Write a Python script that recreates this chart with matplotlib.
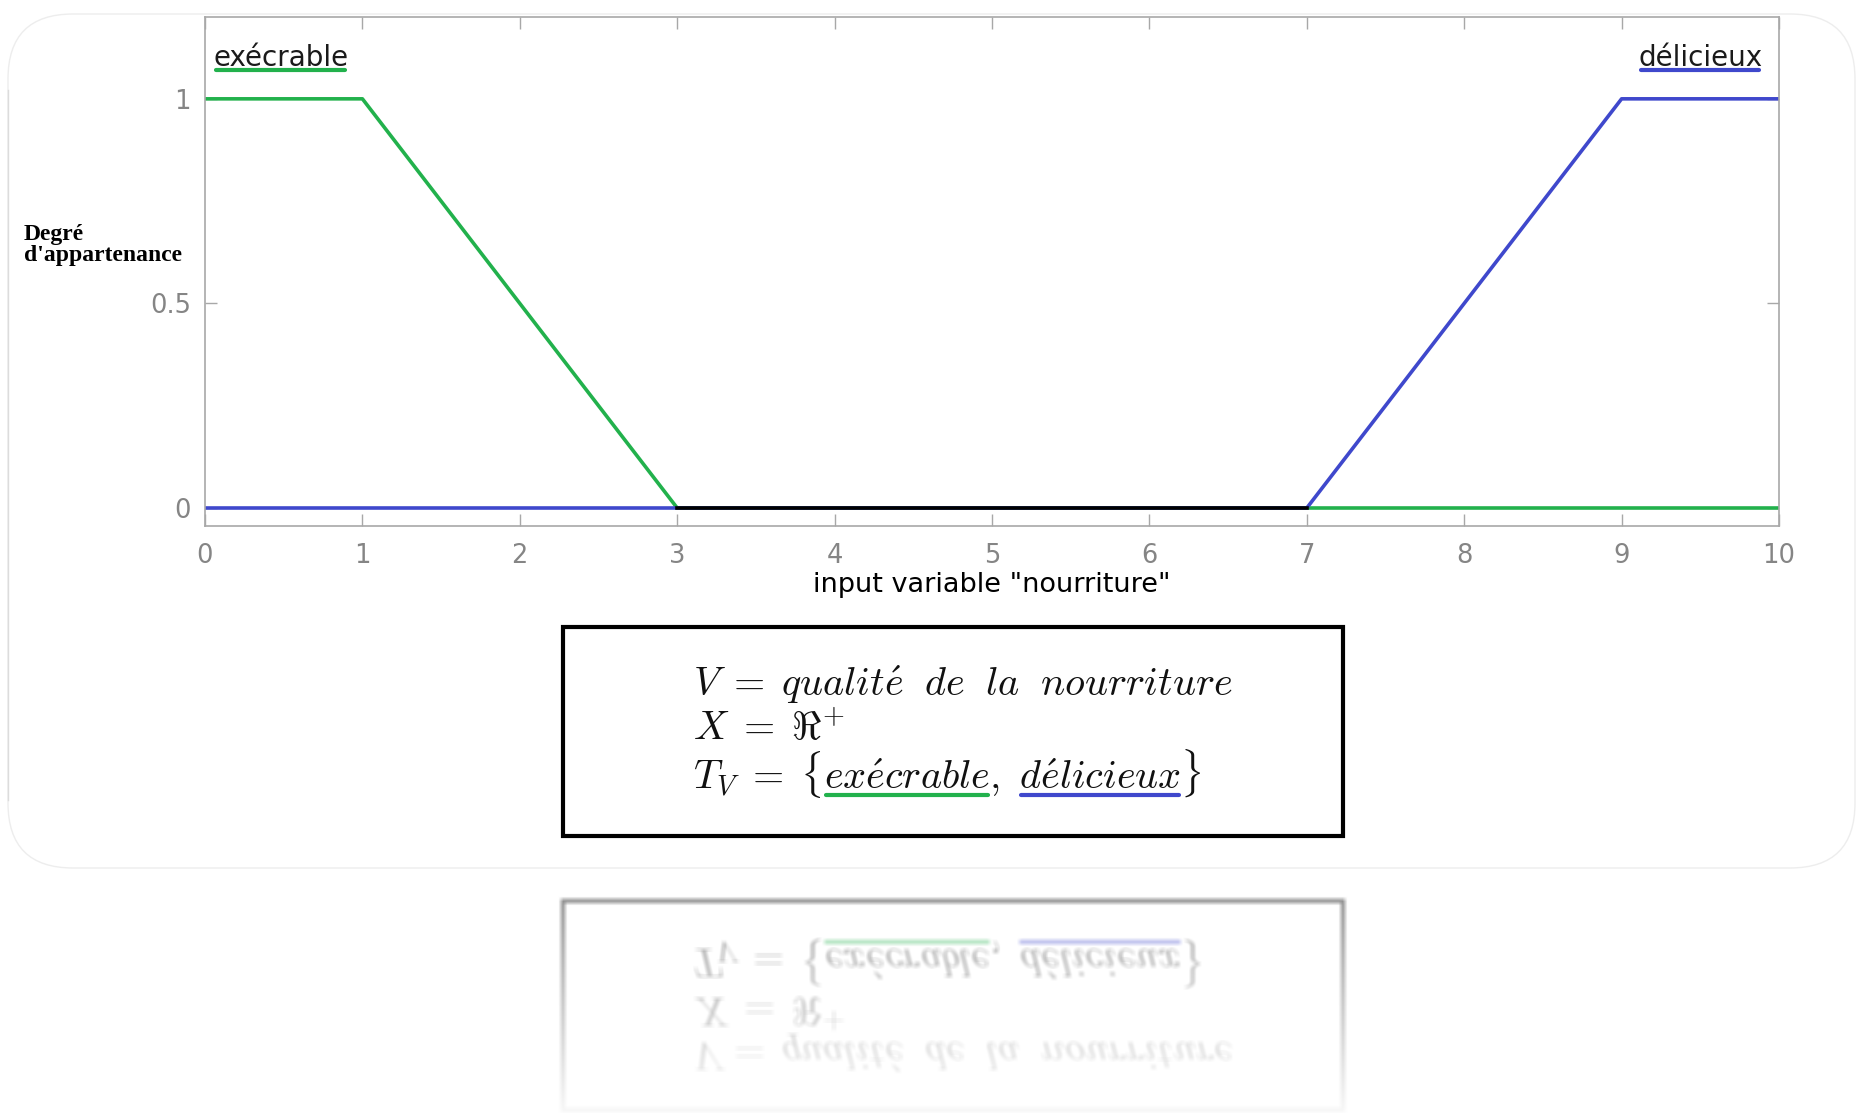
import matplotlib
matplotlib.use('Agg')
import matplotlib.pyplot as plt
import numpy as np
from matplotlib.patches import FancyBboxPatch, Rectangle
from matplotlib.lines import Line2D

# figure size in pixels
W, H = 1865, 1113

# membership functions of the linguistic variable "nourriture"
execrable_x = [0, 1, 3, 10]
execrable_y = [1, 1, 0, 0]
delicieux_x = [0, 7, 9, 10]
delicieux_y = [0, 0, 1, 1]
overlap_x = [3, 7]
overlap_y = [0, 0]

x_ticks = [0, 1, 2, 3, 4, 5, 6, 7, 8, 9, 10]
y_ticks = [0, 0.5, 1]
y_tick_labels = ['0', '0.5', '1']
term_names = ['exécrable', 'délicieux']

box_lines = [r'$V\;=\;qualit\acute{e}\ \;de\ \;la\ \;nourriture$',
             r'$X\;=\;\Re^{+}$',
             r'$T_V\;=\;\{ex\acute{e}crable,\ d\acute{e}licieux\}$']
# (text up to the end of the term, the term alone)
underline_spans = [(r'$T_V\;=\;\{ex\acute{e}crable$', r'$ex\acute{e}crable$'),
                   (r'$T_V\;=\;\{ex\acute{e}crable,\ d\acute{e}licieux$', r'$d\acute{e}licieux$')]

green = '#22b14c'
blue = '#3f48cc'
gray_text = '#858585'
gray_axis = '#a8a8a8'
box_size = 29

plt.rcParams['mathtext.fontset'] = 'cm'
plt.rcParams['font.family'] = 'DejaVu Sans'


def fx(x):
    return x / W


def fy(y):
    return 1 - y / H


fig = plt.figure(figsize=(W / 100, H / 100), dpi=100, facecolor='white')

# rounded card behind everything
card = FancyBboxPatch((0.08, (H - 868) / 100), 18.47, 8.54,
                      boxstyle='round,pad=0,rounding_size=0.65',
                      transform=fig.dpi_scale_trans, facecolor='white',
                      edgecolor='#ededed', linewidth=1.0, zorder=-1)
fig.add_artist(card)
fig.add_artist(Line2D([fx(8), fx(8)], [fy(90), fy(800)], color='#dcdcdc', linewidth=1.0, zorder=-1))

ax = fig.add_axes([fx(205), fy(526), (1779 - 205) / W, (526 - 17) / H])
ax.plot(execrable_x, execrable_y, color=green, linewidth=2.6)
ax.plot(delicieux_x, delicieux_y, color=blue, linewidth=2.6)
ax.plot(overlap_x, overlap_y, color='black', linewidth=2.6)

ax.set_xlim(0, 10)
ax.set_ylim(-0.044, 1.2)
ax.set_xticks(x_ticks)
ax.set_yticks(y_ticks)
ax.set_yticklabels(y_tick_labels)
ax.tick_params(direction='in', length=8.5, width=1, color=gray_axis,
               labelcolor=gray_text, labelsize=18.5, top=True, right=True)
ax.tick_params(axis='x', pad=12)
ax.tick_params(axis='y', pad=10)
for spine in ax.spines.values():
    spine.set_color(gray_axis)
    spine.set_linewidth(1.2)

ax.set_xlabel('input variable "nourriture"', fontsize=19.5, color='black', va='center')
ax.xaxis.set_label_coords(0.5, (526 - 585) / (526 - 17))

fig.text(fx(24), fy(245), "Degré\nd'appartenance", family='Liberation Serif',
         weight='bold', fontsize=17, ha='left', va='center', linespacing=1.0)

# term labels inside the axes
t_exe = ax.text((214 - 205) / 1574, (526 - 66) / 509, term_names[0], transform=ax.transAxes,
                fontsize=20, color='#1a1a1a', ha='left', va='baseline')
t_del = ax.text((1763 - 205) / 1574, (526 - 66) / 509, term_names[1], transform=ax.transAxes,
                fontsize=20, color='#1a1a1a', ha='right', va='baseline')

# definition box
fig.add_artist(Rectangle((fx(563), fy(836)), (1343 - 563) / W, (836 - 627) / H,
                         transform=fig.transFigure, fill=False, edgecolor='black',
                         linewidth=3, zorder=2))
baselines = [696, 740, 789]
for line, base in zip(box_lines, baselines):
    fig.text(fx(693), fy(base), line, fontsize=box_size, ha='left', va='baseline', color='#111111')

fig.canvas.draw()
renderer = fig.canvas.get_renderer()


def text_width(s, size):
    t = fig.text(0, 0, s, fontsize=size)
    w = t.get_window_extent(renderer).width
    t.remove()
    return w


# underlines for the term labels
for t, col in [(t_exe, green), (t_del, blue)]:
    bb = t.get_window_extent(renderer)
    fig.add_artist(Line2D([fx(bb.x0 + 2), fx(bb.x1 - 4)], [fy(70), fy(70)],
                          color=col, linewidth=3, solid_capstyle='round'))

# underlines below the terms of T_V
x0 = 693
for (upto, word), col in zip(underline_spans, [green, blue]):
    b = text_width(upto, box_size)
    a = b - text_width(word, box_size)
    fig.add_artist(Line2D([fx(x0 + a + 2), fx(x0 + b - 2)], [fy(795), fy(795)],
                          color=col, linewidth=3, solid_capstyle='round'))

# reflection of the definition box
fig.canvas.draw()
buf = np.asarray(fig.canvas.buffer_rgba())[:, :, :3].astype(float) / 255
crop = buf[624:842, 555:1352][::-1]
k = 2
padded = np.pad(crop, ((k, k), (k, k), (0, 0)), mode='edge')
blur = np.zeros_like(crop)
for dy in range(2 * k + 1):
    for dx in range(2 * k + 1):
        blur += padded[dy:dy + crop.shape[0], dx:dx + crop.shape[1]]
blur /= (2 * k + 1) ** 2
alpha = np.linspace(0.45, 0.03, crop.shape[0])[:, None, None]
reflection = 1 - alpha * (1 - blur)
fig.figimage(reflection, xo=555, yo=0, origin='upper', zorder=0)

fig.savefig('out.png', dpi=100, facecolor='white')
